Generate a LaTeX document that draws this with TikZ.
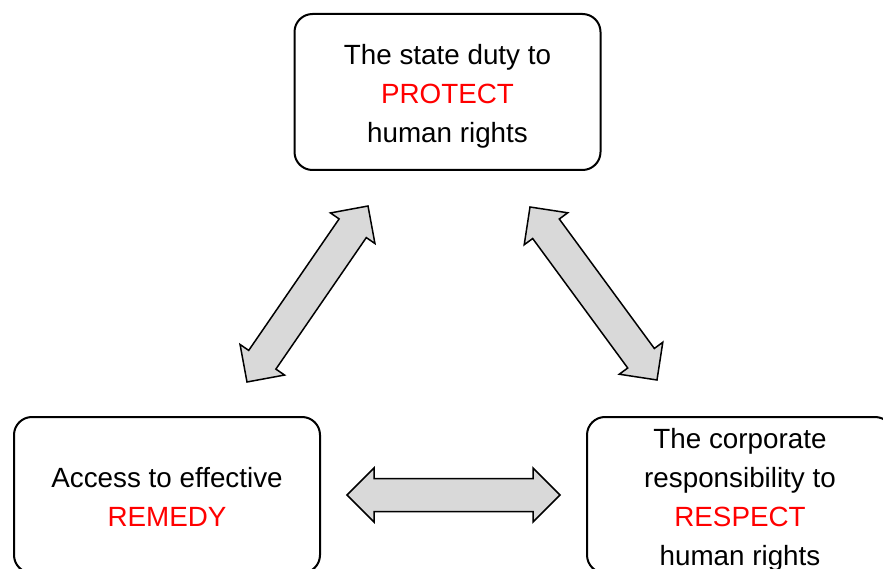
\documentclass[tikz,border=0pt]{standalone}
\usepackage{fontspec}
\setmainfont{Liberation Sans}
\usepackage{tikz}
\usetikzlibrary{calc}
\definecolor{arrowgray}{HTML}{D9D9D9}
\newcommand{\firststrut}{\rule{0pt}{31pt}}
\newcommand{\laststrut}{\rule[-8pt]{0pt}{8pt}}
\tikzset{
  pillar/.style={draw, line width=2pt, rounded corners=18pt, inner ysep=0pt,
    minimum width=306pt, minimum height=156pt, align=center,
    font=\fontsize{27.8}{39}\selectfont},
  blockarrow/.style={draw, fill=arrowgray, line width=1.5pt, line join=miter}
}
\newcommand{\pillararrow}[2]{%
  \draw[blockarrow] (#1)
    -- ($(#1)!27pt!(#2)!27pt!90:(#2)$)
    -- ($(#1)!27pt!(#2)!16.5pt!90:(#2)$)
    -- ($(#2)!27pt!(#1)!16.5pt!-90:(#1)$)
    -- ($(#2)!27pt!(#1)!27pt!-90:(#1)$)
    -- (#2)
    -- ($(#2)!27pt!(#1)!27pt!90:(#1)$)
    -- ($(#2)!27pt!(#1)!16.5pt!90:(#1)$)
    -- ($(#1)!27pt!(#2)!16.5pt!-90:(#2)$)
    -- ($(#1)!27pt!(#2)!27pt!-90:(#2)$)
    -- cycle;}
\begin{document}
\begin{tikzpicture}[x=1pt,y=-1pt]
    \clip (0,0) rectangle (883,569);
    % set up the nodes
    \node[pillar] (protect) at (447.5,92) {\firststrut The state duty to\\\textcolor{red}{PROTECT}\\human rights\laststrut};
    \node[pillar] (remedy) at (167,495) {\firststrut Access to effective\\\textcolor{red}{REMEDY}\laststrut};
    \node[pillar] (respect) at (740,495) {\firststrut The corporate\\responsibility to\\\textcolor{red}{RESPECT}\\human rights\laststrut};
    % arrow ends
    \coordinate (protect-left) at (368,206);
    \coordinate (remedy-top) at (247,382);
    \coordinate (protect-right) at (530,207);
    \coordinate (respect-top) at (657,380);
    \coordinate (remedy-right) at (347,495);
    \coordinate (respect-left) at (560,495);
    % draw the double arrows between them
    \pillararrow{remedy-top}{protect-left}
    \pillararrow{protect-right}{respect-top}
    \pillararrow{remedy-right}{respect-left}
\end{tikzpicture}
\end{document}
